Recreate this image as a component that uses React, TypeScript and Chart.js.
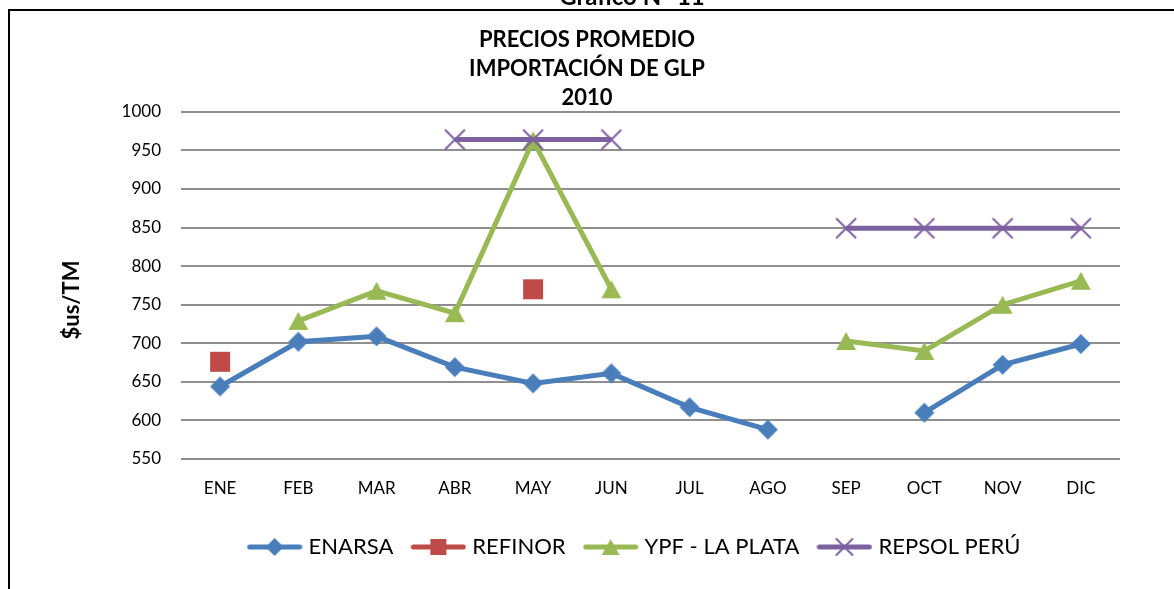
import React, { useEffect, useRef } from "react";
import { Chart, registerables } from "chart.js";

Chart.register(...registerables);

const FONT = "Lato, 'Noto Sans', sans-serif";

const heading = "Gráfico N° 11";
const titleLines = ["PRECIOS PROMEDIO", "IMPORTACIÓN DE GLP", "2010"];
const axisTitle = "$us/TM";
const months = ["ENE", "FEB", "MAR", "ABR", "MAY", "JUN", "JUL", "AGO", "SEP", "OCT", "NOV", "DIC"];
const seriesNames = ["ENARSA", "REFINOR", "YPF - LA PLATA", "REPSOL PERÚ"];

const enarsa = [644, 702, 709, 669, 648, 661, 617, 588, null, 610, 672, 699];
const refinor = [676, null, null, null, 770, null, null, null, null, null, null, null];
const ypf = [null, 729, 768, 739, 963, 770, null, null, 703, 690, 750, 781];
const repsol = [null, null, null, 964, 964, 964, null, null, 849, 849, 849, 849];

const yMin = 550;
const yMax = 1000;
const yStep = 50;

const COLORS = ["#4A7EBB", "#BE4B48", "#98B954", "#7D60A0"];
const MARKERS = ["diamond", "square", "triangle", "cross"];

const TITLE_DX = 27;
const LEGEND_DX = 76;

function drawMarker(ctx: CanvasRenderingContext2D, kind: string, cx: number, cy: number, s: number, color: string) {
  ctx.fillStyle = color;
  ctx.strokeStyle = color;
  ctx.beginPath();
  if (kind === "diamond") {
    ctx.moveTo(cx, cy - s);
    ctx.lineTo(cx + s, cy);
    ctx.lineTo(cx, cy + s);
    ctx.lineTo(cx - s, cy);
    ctx.closePath();
    ctx.fill();
  } else if (kind === "square") {
    ctx.rect(cx - s, cy - s, 2 * s, 2 * s);
    ctx.fill();
  } else if (kind === "triangle") {
    ctx.moveTo(cx, cy - s * 0.9);
    ctx.lineTo(cx + s, cy + s * 0.9);
    ctx.lineTo(cx - s, cy + s * 0.9);
    ctx.closePath();
    ctx.fill();
  } else {
    ctx.lineWidth = 2;
    ctx.moveTo(cx - s, cy - s);
    ctx.lineTo(cx + s, cy + s);
    ctx.moveTo(cx + s, cy - s);
    ctx.lineTo(cx - s, cy + s);
    ctx.stroke();
  }
}

function markerImage(kind: string, s: number, color: string) {
  const c = document.createElement("canvas");
  const size = Math.ceil(2 * s + 4);
  c.width = size;
  c.height = size;
  const ctx = c.getContext("2d")!;
  drawMarker(ctx, kind, size / 2, size / 2, s, color);
  return c;
}

function legendImage(kind: string, s: number, color: string) {
  const c = document.createElement("canvas");
  c.width = 56;
  c.height = 28;
  const ctx = c.getContext("2d")!;
  ctx.strokeStyle = color;
  ctx.lineWidth = 5;
  ctx.lineCap = "round";
  ctx.beginPath();
  ctx.moveTo(3, 14);
  ctx.lineTo(53, 14);
  ctx.stroke();
  drawMarker(ctx, kind, 28, 14, s, color);
  return c;
}

export default function App() {
  const ref = useRef<HTMLCanvasElement | null>(null);

  useEffect(() => {
    if (!ref.current) return;
    Chart.defaults.font.family = FONT;

    const plotSizes = [10, 10, 10, 10];
    const legendSizes = [9, 8, 9, 8];
    const pointImgs = MARKERS.map((m, i) => markerImage(m, plotSizes[i], COLORS[i]));
    const legendImgs = MARKERS.map((m, i) => legendImage(m, legendSizes[i], COLORS[i]));
    const values = [enarsa, refinor, ypf, repsol];
    const orders = [3, 2, 1, 0];

    const decor = {
      id: "decor",
      afterLayout(chart: any) {
        const t = chart.titleBlock;
        if (t) {
          t.left += TITLE_DX;
          t.right += TITLE_DX;
        }
        const l = chart.legend;
        if (l) {
          l.left += LEGEND_DX;
          l.right += LEGEND_DX;
        }
      },
      afterDraw(chart: any) {
        const ctx = chart.ctx as CanvasRenderingContext2D;
        ctx.save();
        ctx.fillStyle = "#000";
        ctx.fillRect(8, 9, chart.width - 8, 2);
        ctx.fillRect(8, 9, 2, chart.height - 9);
        ctx.font = `bold 24px ${FONT}`;
        ctx.textAlign = "center";
        ctx.textBaseline = "alphabetic";
        ctx.fillText(heading, 632, 4.5);
        ctx.translate(72, 300);
        ctx.rotate(-Math.PI / 2);
        ctx.font = `bold 22px ${FONT}`;
        ctx.textBaseline = "middle";
        ctx.fillText(axisTitle, 0, 0);
        ctx.restore();
      },
    };

    const chart = new Chart(ref.current, {
      type: "line",
      data: {
        labels: months,
        datasets: seriesNames.map((name, i) => ({
          label: name,
          data: values[i],
          borderColor: COLORS[i],
          backgroundColor: COLORS[i],
          borderWidth: 5,
          pointStyle: pointImgs[i] as any,
          pointRadius: 10,
          pointHoverRadius: 10,
          spanGaps: false,
          tension: 0,
          order: orders[i],
          fill: false,
        })),
      },
      options: {
        responsive: false,
        animation: false,
        devicePixelRatio: 1,
        layout: { padding: { top: 0, left: 0, right: 54, bottom: 21 } },
        plugins: {
          tooltip: { enabled: false },
          title: {
            display: true,
            text: titleLines,
            color: "#000",
            font: { size: 22, weight: "bold", family: FONT, lineHeight: 1.3 },
            padding: { top: 26, bottom: 0 },
          },
          legend: {
            position: "bottom",
            labels: {
              usePointStyle: true,
              pointStyleWidth: 46,
              padding: 22,
              color: "#000",
              font: { size: 22, family: FONT },
              generateLabels: (c: any) =>
                c.data.datasets.map((ds: any, i: number) => ({
                  text: ds.label,
                  pointStyle: legendImgs[i],
                  fillStyle: COLORS[i],
                  strokeStyle: COLORS[i],
                  lineWidth: 0,
                  hidden: false,
                  datasetIndex: i,
                  fontColor: "#000",
                })),
            },
          },
        },
        scales: {
          x: {
            type: "category",
            offset: true,
            grid: { display: false, drawTicks: false },
            border: { display: false },
            ticks: { color: "#000", font: { size: 17, family: FONT }, padding: 19, maxRotation: 0, autoSkip: false },
            afterFit: (s: any) => {
              s.height = 55;
            },
          },
          y: {
            min: yMin,
            max: yMax,
            ticks: {
              stepSize: yStep,
              color: "#000",
              font: { size: 17, family: FONT },
              padding: 20,
              callback: (v: any) => String(v),
            },
            grid: { color: "#8f8f8f", lineWidth: 2, drawTicks: false },
            border: { display: false },
            afterFit: (s: any) => {
              s.width = 181;
            },
          },
        },
      },
      plugins: [decor],
    });

    return () => chart.destroy();
  }, []);

  return (
    <div style={{ position: "absolute", left: 0, top: 0, width: 1174, height: 589, background: "#fff" }}>
      <canvas ref={ref} width={1174} height={589} style={{ display: "block" }} />
    </div>
  );
}
